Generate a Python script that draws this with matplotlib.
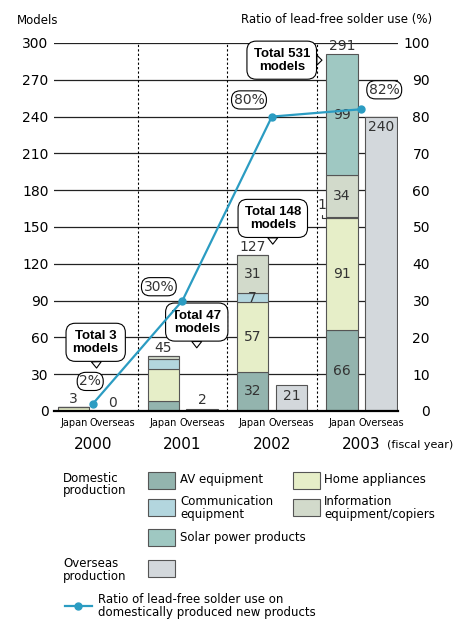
import numpy as np
import matplotlib
matplotlib.use("Agg")
import matplotlib.pyplot as plt
from matplotlib.patches import Rectangle
from matplotlib.transforms import blended_transform_factory

# data
years = ["2000", "2001", "2002", "2003"]
av = [0, 8, 32, 66]
home = [3, 26, 57, 91]
comm = [0, 8, 7, 1]
info = [0, 3, 31, 34]
solar = [0, 0, 0, 99]
overseas = [0, 2, 21, 240]
ratio = [2, 30, 80, 82]
totals = [3, 47, 148, 531]

seg_names = ["AV equipment", "Home appliances", "Communication\nequipment",
             "Information\nequipment/copiers", "Solar power products"]
seg_colors = ["#93b4ae", "#e6eec8", "#b3d6de", "#d2dacb", "#9fc8c2"]
over_color = "#d3d8dc"
line_color = "#2b9cc2"
edge = "#555555"

plt.rcParams["font.family"] = "DejaVu Sans"

fig = plt.figure(figsize=(4.67, 6.19), dpi=100)
ax = fig.add_axes([54 / 467, 1 - 411 / 619, 344 / 467, 368 / 619])
ax2 = ax.twinx()

x = np.arange(len(years))
w = 0.35
jx = x - 0.215
ox = x + 0.22

ax.set_xlim(-0.436, 3.41)
ax.set_ylim(0, 300)
ax2.set_ylim(0, 100)

# grid + separators
ax.set_axisbelow(True)
ax.grid(axis="y", color="#222222", lw=0.9)
ax.grid(axis="x", visible=False)
for b in x[:-1] + 0.5:
    ax.plot([b, b], [0, 300], color="k", lw=0.8, ls=(0, (2, 2)), zorder=0.6)

# stacked domestic bars
segs = [av, home, comm, info, solar]
bottom = np.zeros(len(years))
for vals, col in zip(segs, seg_colors):
    vals = np.array(vals)
    ax.bar(jx, vals, w, bottom=bottom, color=col, edgecolor=edge, lw=0.8,
           zorder=2)
    for i in (2, 3):
        if vals[i] > 1:
            ax.text(jx[i], bottom[i] + vals[i] / 2, str(vals[i]), ha="center",
                    va="center", fontsize=10, color="#333333", zorder=5)
    bottom += vals
dom_tot = bottom.astype(int)
for i in range(len(years)):
    ax.text(jx[i], dom_tot[i] + 1, str(dom_tot[i]), ha="center", va="bottom",
            fontsize=10, color="#333333", zorder=5)

# the tiny "1" segment of 2003 with its leader
ax.annotate(str(comm[3]), xy=(jx[3] - w / 2, av[3] + home[3] + comm[3] / 2),
            xytext=(jx[3] - 0.23, 168), ha="center", va="center", fontsize=10,
            color="#333333",
            arrowprops=dict(arrowstyle="-", lw=0.8, color="#333333",
                            shrinkA=0, shrinkB=0,
                            connectionstyle="angle,angleA=90,angleB=0,rad=0"))

# overseas bars
ax.bar(ox, overseas, w, color=over_color, edgecolor=edge, lw=0.8, zorder=2)
for i, v in enumerate(overseas):
    if v > 10:
        ax.text(ox[i], v - 3, str(v), ha="center", va="top", fontsize=10,
                color="#333333", zorder=5)
    else:
        ax.text(ox[i], v + 1, str(v), ha="center", va="bottom", fontsize=10,
                color="#333333", zorder=5)

# callouts with totals
callouts = [((0.03, 56), (0.04, 35)), ((1.16, 72.5), (1.16, 51.5)),
            ((2.01, 157), (2.01, 136)), ((2.11, 286), (2.56, 286))]
for tot, (txt, tip) in zip(totals, callouts):
    ax.annotate(f"Total {tot}\nmodels", xy=tip, xytext=txt, ha="center",
                va="center", fontsize=9.5, fontweight="bold", linespacing=1.1,
                family="Liberation Sans", zorder=6,
                bbox=dict(boxstyle="round,pad=0.5,rounding_size=0.7",
                          fc="white", ec="k", lw=0.8),
                arrowprops=dict(arrowstyle="wedge,tail_width=0.75",
                                fc="white", ec="k", lw=0.8,
                                shrinkA=0, shrinkB=0))

# ratio line
ax2.plot(x, ratio, color=line_color, lw=1.6, marker="o", ms=5, zorder=4)
pct_offsets = [(-2, 16), (-17, 10), (-16.5, 12), (16.5, 14)]
for xi, r, off in zip(x, ratio, pct_offsets):
    ax2.annotate(f"{r}%", xy=(xi, r), xytext=off, textcoords="offset points",
                 ha="center", va="center", fontsize=10, color="#333333",
                 zorder=6,
                 bbox=dict(boxstyle="round,pad=0.15,rounding_size=0.62",
                           fc="white", ec="k", lw=0.8))

# axes cosmetics
for a in (ax, ax2):
    for s in ("top", "left", "right"):
        a.spines[s].set_visible(False)
ax2.spines["bottom"].set_visible(False)
ax.spines["bottom"].set_linewidth(1.6)

ax.set_yticks(np.arange(0, 301, 30))
ax.tick_params(axis="y", length=0, pad=4, labelsize=10)
ax2.set_yticks(np.arange(0, 101, 10))
ax2.set_yticklabels([str(v) for v in range(0, 101, 10)], ha="right")
ax2.tick_params(axis="y", length=0, pad=23, labelsize=10)

ax.set_xticks(np.concatenate([jx, ox]))
ax.set_xticklabels(["Japan"] * 4 + ["Overseas"] * 4, fontsize=7)
ax.tick_params(axis="x", length=0, pad=5)

tr = blended_transform_factory(ax.transData, ax.transAxes)
for xi, yr in zip(x, years):
    ax.text(xi, -0.092, yr, transform=tr, ha="center", va="center",
            fontsize=11)

# overlay in pixel units for titles and legend
lax = fig.add_axes([0, 0, 1, 1])
lax.set_xlim(0, 467)
lax.set_ylim(619, 0)
lax.axis("off")
lax.patch.set_alpha(0)

lax.text(17, 20, "Models", ha="left", va="center", fontsize=8.5)
lax.text(432, 20, "Ratio of lead-free solder use (%)", ha="right",
         va="center", fontsize=8.5)
lax.text(387, 445, "(fiscal year)", ha="left", va="center", fontsize=8)

lax.text(63, 484.5, "Domestic\nproduction", ha="left", va="center",
         fontsize=8.5, linespacing=0.95)
lax.text(63, 570, "Overseas\nproduction", ha="left", va="center",
         fontsize=8.5, linespacing=0.95)

slots = [(148, 472, 180, 480), (293, 472, 324, 480), (148, 499, 180, 508),
         (293, 499, 324, 508), (148, 529, 180, 538)]
for (bx, by, tx, ty), name, col in zip(slots, seg_names, seg_colors):
    lax.add_patch(Rectangle((bx, by), 27, 17, fc=col, ec=edge, lw=0.8))
    lax.text(tx, ty, name, ha="left", va="center", fontsize=8.5,
             linespacing=0.95)
lax.add_patch(Rectangle((148, 560), 27, 17, fc=over_color, ec=edge, lw=0.8))

lax.plot([65, 92], [606, 606], color=line_color, lw=1.6)
lax.plot([78], [606], color=line_color, marker="o", ms=5)
lax.text(98, 606, "Ratio of lead-free solder use on\n"
         "domestically produced new products", ha="left", va="center",
         fontsize=8.5, linespacing=0.95)

fig.savefig("out.png", dpi=100)
